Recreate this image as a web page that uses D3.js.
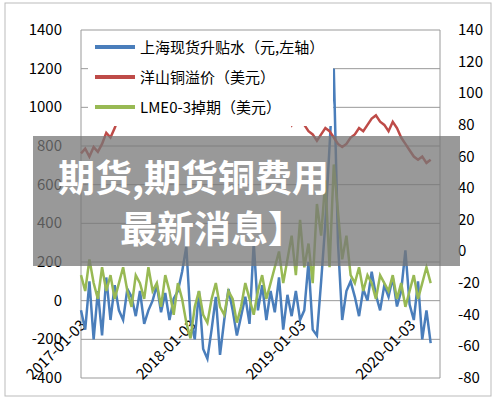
<!DOCTYPE html><html><head><meta charset="utf-8"><script src="https://cdn.jsdelivr.net/npm/d3@7"></script>
<style>body{margin:0;background:#fff}text{font-family:"Noto Sans CJK SC","DejaVu Sans",sans-serif}</style></head><body><svg id="c" width="495" height="403"></svg><script>
const blue=[-50,-150,100,-200,50,-180,120,-100,80,-50,-100,60,20,-80,50,-120,-50,0,80,-60,40,-100,10,50,150,280,
-100,-200,50,-250,-300,-150,20,-280,-100,60,-50,-180,-80,20,-120,300,-50,80,-100,50,-60,120,-150,30,-80,50,
-100,-50,200,-150,-180,100,400,800,1200,300,-100,50,100,20,-80,60,0,150,30,-50,80,20,120,-30,50,260,
-20,-100,100,-200,-50,-220];
const green=[-15,-25,-5,-20,-30,-10,-25,-15,-30,-20,-10,-25,-35,-15,-20,-30,-10,-25,-20,-35,-15,-25,-40,-20,-30,-45,
-55,-35,-25,-40,-45,-30,-20,-35,-40,-25,-30,-45,-35,-20,-30,-40,-25,-15,-30,-20,-10,0,-20,-5,10,-15,
20,-10,5,-20,30,10,45,-10,55,25,-5,10,-15,-20,-10,-25,-15,-20,-30,-15,-20,-25,-15,-30,-20,-35,
-25,-15,-30,-20,-10,-20];
const red=[62,65,60,66,63,68,75,72,78,85,90,95,92,100,105,108,110,105,108,112,106,115,110,104,108,112,
110,115,118,112,108,116,120,115,110,114,108,104,100,106,102,96,100,94,90,88,92,90,88,85,80,86,
84,80,76,74,70,74,78,76,72,68,66,68,72,74,78,76,80,84,86,82,80,76,82,78,72,68,
64,60,58,60,56,58];
const leftTicks=[-400,-200,0,200,400,600,800,1000,1200,1400];
const rightTicks=[-80,-60,-40,-20,0,20,40,60,80,100,120,140];
const dateTicks=["2017-01-03","2018-01-03","2019-01-03","2020-01-03"];
const names=["上海现货升贴水（元,左轴）","洋山铜溢价（美元）","LME0-3掉期（美元）"];
const colors=["#4a7ebb","#be4b48","#98b954"];
const start=new Date("2017-01-03");
const dates=blue.map((d,i)=>new Date(+start+i*14*864e5));
const svg=d3.select("#c");
svg.append("rect").attr("x",5).attr("y",3).attr("width",486).attr("height",393).attr("fill","#fff").attr("stroke","#bbb");
const x=d3.scaleTime().domain([start,new Date("2020-04-10")]).range([81,440]);
const yl=d3.scaleLinear().domain([-400,1400]).range([378,30]);
const yr=d3.scaleLinear().domain([-80,140]).range([378,30]);
svg.append("g").selectAll("line").data(leftTicks).join("line").attr("x1",81).attr("x2",440).attr("y1",d=>yl(d)).attr("y2",d=>yl(d)).attr("stroke","#999");
svg.append("line").attr("x1",81).attr("x2",81).attr("y1",30).attr("y2",378).attr("stroke","#999");
svg.append("line").attr("x1",440).attr("x2",440).attr("y1",30).attr("y2",378).attr("stroke","#999");
svg.append("g").selectAll("text").data(leftTicks).join("text").attr("x",62).attr("y",d=>yl(d)+5).attr("text-anchor","end").attr("font-size",15).text(d=>d);
svg.append("g").selectAll("text").data(rightTicks).join("text").attr("x",458).attr("y",d=>yr(d)+5).attr("font-size",15).text(d=>d);
svg.append("g").selectAll("text").data(dateTicks).join("text").attr("font-size",15).attr("text-anchor","end")
 .attr("transform",d=>`translate(${x(new Date(d))+6},${326}) rotate(-45)`).text(d=>d);
const ln=(arr,y)=>d3.line().x((d,i)=>x(dates[i])).y(d=>y(d))(arr);
svg.append("path").attr("d",ln(blue,yl)).attr("fill","none").attr("stroke",colors[0]).attr("stroke-width",2.5);
svg.append("path").attr("d",ln(red,yr)).attr("fill","none").attr("stroke",colors[1]).attr("stroke-width",2.5);
svg.append("path").attr("d",ln(green,yr)).attr("fill","none").attr("stroke",colors[2]).attr("stroke-width",2.5);
const lg=svg.append("g");
lg.append("rect").attr("x",88).attr("y",34).attr("width",245).attr("height",92).attr("fill","#fff");
names.forEach((n,i)=>{lg.append("line").attr("x1",95).attr("x2",135).attr("y1",47+i*30).attr("y2",47+i*30).attr("stroke",colors[i]).attr("stroke-width",4);
 lg.append("text").attr("x",140).attr("y",53+i*30).attr("font-size",15).text(n);});
svg.append("rect").attr("x",33).attr("y",136).attr("width",427).attr("height",130).attr("fill","#777").attr("opacity",0.75);
svg.append("text").attr("x",58).attr("y",192).attr("fill","#fff").attr("font-size",37).attr("font-weight","bold").text("期货,期货铜费用");
svg.append("text").attr("x",120).attr("y",243).attr("fill","#fff").attr("font-size",37).attr("font-weight","bold").text("最新消息】");
</script></body></html>
